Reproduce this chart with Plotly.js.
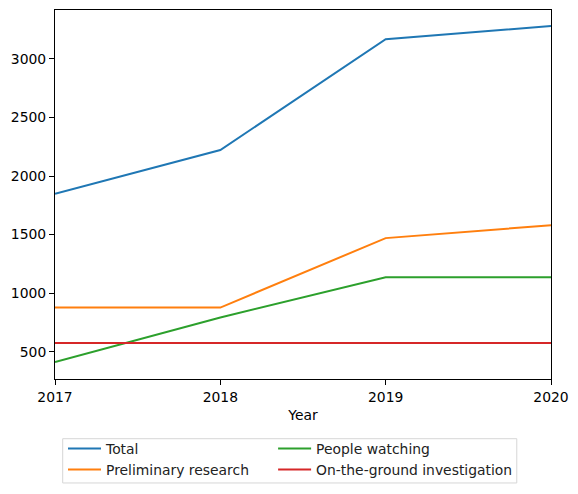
<!DOCTYPE html>
<html>
<head>
<meta charset="utf-8">
<script src="https://cdn.plot.ly/plotly-3.0.1.min.js"></script>
<style>html,body{margin:0;padding:0;background:#fff;}</style>
</head>
<body>
<div id="chart" style="width:578px;height:494px;"></div>
<script>
const years = [2017, 2018, 2019, 2020];
const seriesNames = ["Total", "Preliminary research", "People watching", "On-the-ground investigation"];
const total = [1848, 2222, 3168, 3282];
const preliminary = [877, 877, 1470, 1580];
const peopleWatching = [412, 792, 1136, 1136];
const onTheGround = [575, 575, 575, 575];
const colors = ["#1f77b4", "#ff7f0e", "#2ca02c", "#d62728"];
const values = [total, preliminary, peopleWatching, onTheGround];
const legendIds = ["legend", "legend", "legend2", "legend2"];

const traces = values.map((v, i) => ({
  x: years, y: v, type: "scatter", mode: "lines", name: seriesNames[i],
  line: {color: colors[i], width: 2}, legend: legendIds[i]
}));

const font = {family: "DejaVu Sans, sans-serif", size: 13.9, color: "#000"};
const legendBase = {
  orientation: "v", xref: "container", yref: "container", xanchor: "left", yanchor: "top",
  y: 0.1235, bgcolor: "rgba(0,0,0,0)", borderwidth: 0, itemwidth: 33,
  font: {family: "DejaVu Sans, sans-serif", size: 13.9, color: "#222"},
  traceorder: "normal"
};
const layout = {
  width: 578, height: 494,
  margin: {l: 55, r: 27, t: 10, b: 115, autoexpand: false},
  paper_bgcolor: "#fff", plot_bgcolor: "#fff",
  font: font,
  showlegend: true,
  xaxis: {
    range: [2017, 2020], tickvals: years, ticktext: years.map(String),
    showgrid: false, zeroline: false, showline: true, linecolor: "#000", linewidth: 1, mirror: true,
    ticks: "outside", ticklen: 5, tickcolor: "#000",
    title: {text: "Year", font: font, standoff: 6}
  },
  yaxis: {
    range: [267, 3418], tickvals: [500, 1000, 1500, 2000, 2500, 3000],
    showgrid: false, zeroline: false, showline: true, linecolor: "#000", linewidth: 1, mirror: true,
    ticks: "outside", ticklen: 5, tickcolor: "#000"
  },
  legend: Object.assign({}, legendBase, {x: 0.1090}),
  legend2: Object.assign({}, legendBase, {x: 0.4725}),
  shapes: [{
    type: "rect", xref: "paper", yref: "paper",
    x0: 0.0155, x1: 0.931, y0: -0.1618, y1: -0.2818,
    line: {color: "#d6d6d6", width: 1}, fillcolor: "rgba(0,0,0,0)", layer: "below"
  }]
};
Plotly.newPlot("chart", traces, layout, {displayModeBar: false, staticPlot: true});
</script>
</body>
</html>
